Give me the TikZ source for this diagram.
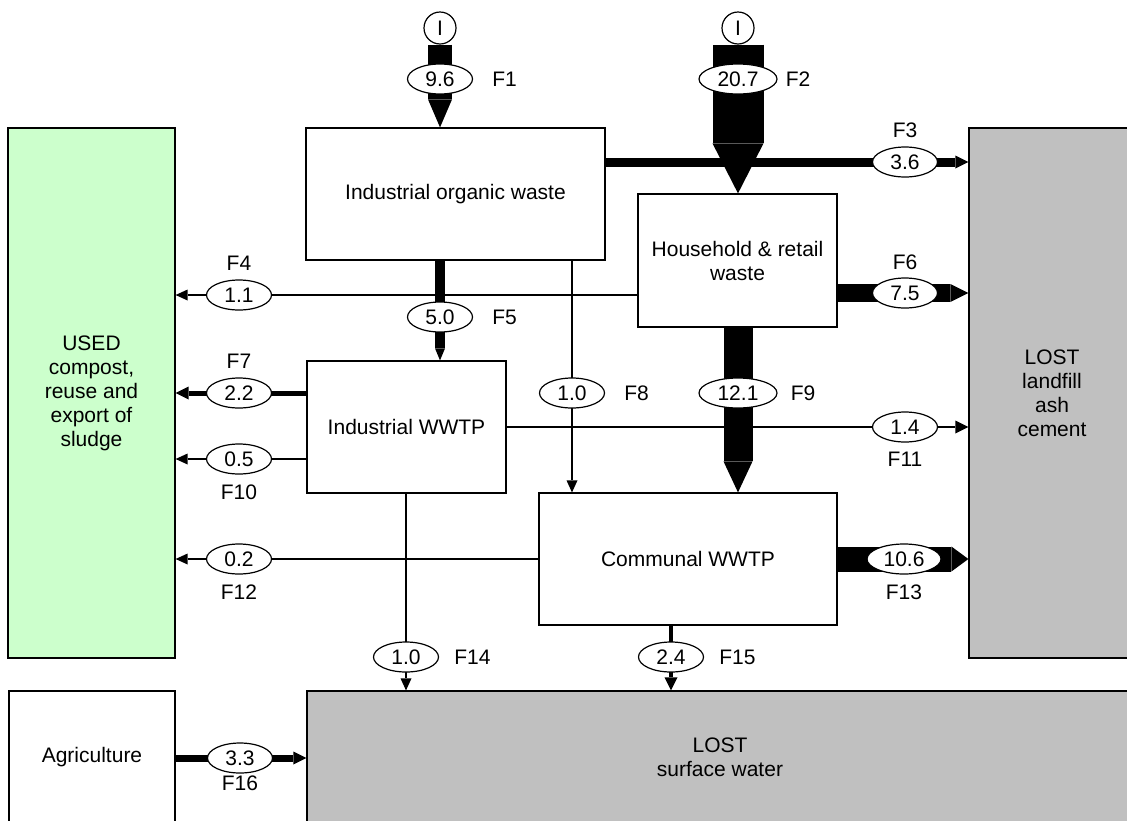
\documentclass[tikz,border=0pt]{standalone}
\usepackage{fontspec}
\setmainfont{Liberation Sans}
\usepackage{xcolor}
\usepackage{tikz}
\usetikzlibrary{arrows.meta, shapes.geometric, positioning, backgrounds}
\definecolor{usedgreen}{HTML}{CCFFCC}
\definecolor{lostgray}{HTML}{C0C0C0}
\newcommand{\flowfont}{\fontsize{21}{24}\selectfont}

\begin{document}
\begin{tikzpicture}[x=1pt, y=-1pt,
  every node/.style={font=\flowfont},
  box/.style={rectangle, draw, line width=1.2pt, fill=white, inner sep=0pt, align=center},
  val/.style={ellipse, draw, line width=1.2pt, fill=white, inner sep=0pt,
              minimum width=65pt, minimum height=30pt},
  wval/.style={val, minimum width=78pt},
  src/.style={circle, draw, line width=1.2pt, fill=white, inner sep=0pt, minimum size=32pt},
  flab/.style={inner sep=0pt},
  flow/.style={line width=1.2pt, -{Triangle[length=12pt, width=11pt, line width=0pt]}},
  mflow/.style={line width=#1, -{Triangle[length=13pt, width=13pt, line width=0pt]}},
  bflow/.style 2 args={line width=#1, -{Triangle[length=#2, width=#1, line width=0pt]}}
]
  \useasboundingbox (0,0) rectangle (1127,820);

  % processes and sinks
  \node[box, fill=usedgreen, minimum width=167pt, minimum height=530pt] (used) at (91.5,393)
       {USED\\compost,\\reuse and\\export of\\sludge};
  \node[box, fill=lostgray, minimum width=166pt, minimum height=530pt] (lostL) at (1052,393)
       {LOST\\landfill\\ash\\cement};
  \node[box, minimum width=299pt, minimum height=132pt] (iow) at (455.5,194) {Industrial organic waste};
  \node[box, minimum width=199pt, minimum height=133pt] (hh)  at (737.5,260.5) {Household \& retail\\waste};
  \node[box, minimum width=199pt, minimum height=132pt] (iww) at (406.5,427) {Industrial WWTP};
  \node[box, minimum width=298pt, minimum height=132pt] (cww) at (688,559) {Communal WWTP};
  \node[box, minimum width=166pt, minimum height=132pt] (agri) at (92,757) {Agriculture};
  \node[box, fill=lostgray, minimum width=826pt, minimum height=132pt] (losts) at (720,757)
       {LOST\\surface water};

  % imports
  \node[src] (i1) at (440,28) {I};
  \node[src] (i2) at (738,28) {I};

  % flow values
  \node[val]  (v1)  at (440,79)  {9.6};
  \node[wval] (v2)  at (738,79)  {20.7};
  \node[val]  (v3)  at (905,162) {3.6};
  \node[val]  (v4)  at (239,295) {1.1};
  \node[val]  (v5)  at (440,317) {5.0};
  \node[val]  (v6)  at (905,293) {7.5};
  \node[val]  (v7)  at (239,393) {2.2};
  \node[val]  (v8)  at (572,393) {1.0};
  \node[wval] (v9)  at (738,393) {12.1};
  \node[val]  (v10) at (239,459) {0.5};
  \node[val]  (v11) at (905,427) {1.4};
  \node[val]  (v12) at (239,559) {0.2};
  \node[wval, minimum width=74pt] (v13) at (904,559) {10.6};
  \node[val]  (v14) at (406,657) {1.0};
  \node[val]  (v15) at (671,657) {2.4};
  \node[val]  (v16) at (240,758) {3.3};

  % flow names
  \node[flab, right=19pt of v1]  {F1};
  \node[flab, right=8pt of v2]   {F2};
  \node[flab, above=9pt of v3]   {F3};
  \node[flab, above=9pt of v4]   {F4};
  \node[flab, right=19pt of v5]  {F5};
  \node[flab, above=8pt of v6]   {F6};
  \node[flab, above=9pt of v7]   {F7};
  \node[flab, right=19pt of v8]  {F8};
  \node[flab, right=13pt of v9]  {F9};
  \node[flab, below=10pt of v10] {F10};
  \node[flab, below=9pt of v11]  {F11};
  \node[flab, below=10pt of v12] {F12};
  \node[flab, below=10pt of v13] {F13};
  \node[flab, right=15pt of v14] {F14};
  \node[flab, right=15pt of v15] {F15};
  \node[flab, below=2pt of v16]  {F16};

  % flows
  \begin{scope}[on background layer]
    \draw[mflow=9pt] (iow.east |- v3) -- (lostL.west |- v3);
    \draw[bflow={24pt}{28pt}] (i1.south) -- (i1 |- iow.north);
    \draw[bflow={51pt}{50pt}] (i2.south) -- (i2 |- hh.north);
    \draw[flow] (hh.west |- v4) -- (used.east |- v4);
    \draw[bflow={10pt}{12pt}] (v5 |- iow.south) -- (v5 |- iww.north);
    \draw[bflow={18pt}{18pt}] (hh.east |- v6) -- (lostL.west |- v6);
    \draw[mflow=5pt] (iww.west |- v7) -- (used.east |- v7);
    \draw[flow] (v8 |- iow.south) -- (v8 |- cww.north);
    \draw[mflow=2.5pt] (iww.east |- v11) -- (lostL.west |- v11);
    \draw[bflow={29pt}{31pt}] (v9 |- hh.south) -- (v9 |- cww.north);
    \draw[flow] (iww.west |- v10) -- (used.east |- v10);
    \draw[flow] (cww.west |- v12) -- (used.east |- v12);
    \draw[bflow={25pt}{17pt}] (cww.east |- v13) -- (lostL.west |- v13);
    \draw[flow] (v14 |- iww.south) -- (v14 |- losts.north);
    \draw[mflow=4pt] (v15 |- cww.south) -- (v15 |- losts.north);
    \draw[mflow=7pt] (agri.east |- v16) -- (losts.west |- v16);
  \end{scope}
\end{tikzpicture}
\end{document}
